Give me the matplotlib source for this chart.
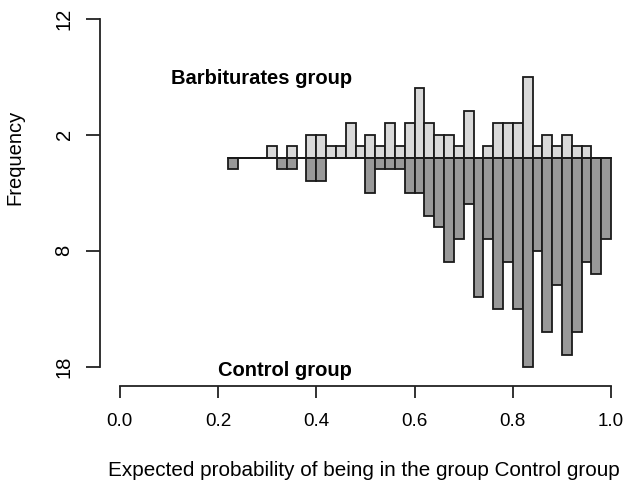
import numpy as np
import matplotlib
matplotlib.use("Agg")
import matplotlib.pyplot as plt

plt.rcParams["font.family"] = ["Liberation Sans", "DejaVu Sans"]

# Histogram bins of width 0.02 starting at 0.22
bin_left = np.round(np.arange(0.22, 1.0, 0.02), 2)

# Counts per bin, barbiturates group (drawn upward)
barb_counts = [0, 0, 0, 0, 1, 0, 1, 0, 2, 2, 1, 1, 3, 1, 2, 1, 3, 1, 3, 6,
               3, 2, 2, 1, 4, 0, 1, 3, 3, 3, 7, 1, 2, 1, 2, 1, 1, 0, 0]

# Counts per bin, control group (drawn downward)
ctrl_counts = [1, 0, 0, 0, 0, 1, 1, 0, 2, 2, 0, 0, 0, 0, 3, 1, 1, 1, 3, 3,
               5, 6, 9, 7, 4, 12, 7, 13, 9, 13, 18, 8, 15, 11, 17, 15, 9, 10, 7]

y_ticks = [12, 2, -8, -18]
x_ticks = [0.0, 0.2, 0.4, 0.6, 0.8, 1.0]

W, H = 623, 486
fs = 14.5
fig = plt.figure(figsize=(W / 100, H / 100), dpi=100)

left_px, right_px = 100, 613.6
top_px, bottom_px = 5, 386
ax = fig.add_axes([left_px / W, 1 - bottom_px / H,
                   (right_px - left_px) / W, (bottom_px - top_px) / H])

edge = "#1a1a1a"
ax.bar(bin_left, barb_counts, width=0.02, align="edge",
       color="#d9d9d9", edgecolor=edge, linewidth=1.3, zorder=2)
ax.bar(bin_left, -np.array(ctrl_counts), width=0.02, align="edge",
       color="#999999", edgecolor=edge, linewidth=1.3, zorder=2)
ax.plot([bin_left[0], 1.0], [0, 0], color=edge, linewidth=1.3, zorder=3)

ax.set_xlim(-0.04, 1.005)
ax.set_ylim(-19.67, 13.17)

for s in ["top", "right"]:
    ax.spines[s].set_visible(False)
ax.spines["left"].set_bounds(-18, 12)
ax.spines["bottom"].set_bounds(0, 1)
for s in ["left", "bottom"]:
    ax.spines[s].set_linewidth(1.3)
    ax.spines[s].set_color("#222222")

ax.set_yticks(y_ticks)
ax.set_yticklabels([str(abs(v)) for v in y_ticks])
ax.set_xticks(x_ticks)
ax.set_xticklabels([f"{v:.1f}" for v in x_ticks])
ax.tick_params(axis="y", length=10, width=1.3, pad=9, labelsize=fs,
               labelrotation=90, color="#222222")
ax.tick_params(axis="x", length=8.6, width=1.3, pad=11, labelsize=13.6,
               color="#222222")
for lab in ax.get_yticklabels():
    lab.set_va("center")

ax.text(0.473, 6.8, "Barbiturates group", ha="right", va="center",
        fontsize=fs, fontweight="bold", clip_on=False)
ax.text(0.473, -18.3, "Control group", ha="right", va="center",
        fontsize=fs, fontweight="bold", clip_on=False)

fig.text(364 / W, 1 - 470 / H,
         "Expected probability of being in the group Control group",
         ha="center", va="center", fontsize=14.9)
fig.text(15 / W, 1 - 157 / H, "Frequency", rotation=90,
         ha="center", va="center", fontsize=fs)

fig.savefig("out.png", dpi=100)
